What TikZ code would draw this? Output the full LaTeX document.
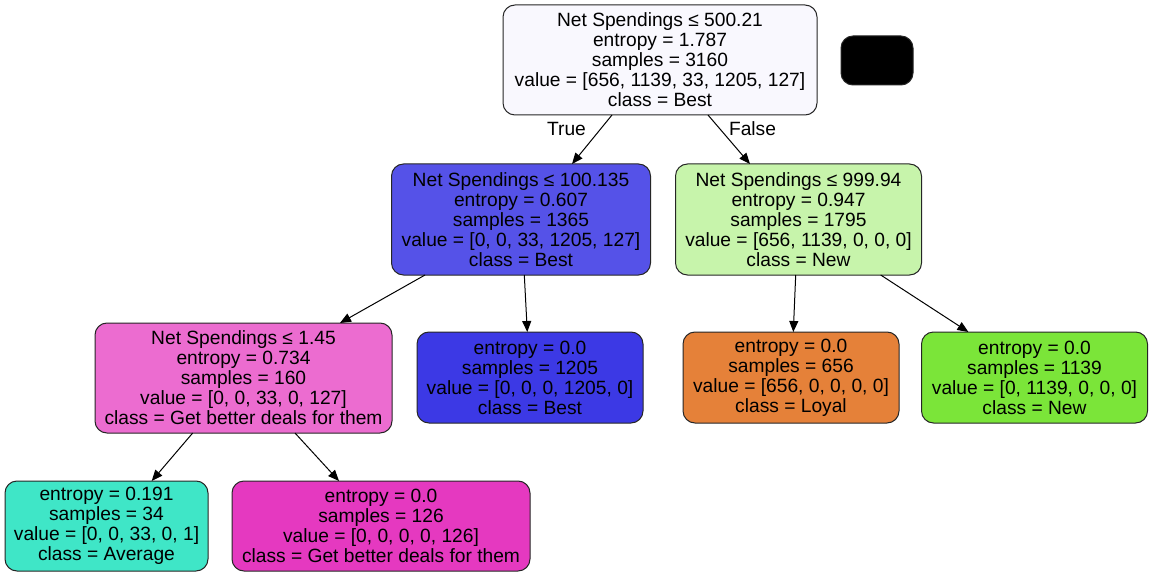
\documentclass[tikz,border=0pt]{standalone}
\usepackage{fontspec}
\setmainfont{Liberation Sans}
\usetikzlibrary{arrows.meta}
\definecolor{croot}{HTML}{F9F8FE}
\definecolor{cltwo}{HTML}{5552E8}
\definecolor{crtwo}{HTML}{C7F4AB}
\definecolor{cpink}{HTML}{EC6CD0}
\definecolor{cblue}{HTML}{3C39E5}
\definecolor{corange}{HTML}{E58139}
\definecolor{cgreen}{HTML}{7BE539}
\definecolor{cteal}{HTML}{3FE6C7}
\definecolor{cmag}{HTML}{E539C0}
\begin{document}
\begin{tikzpicture}[x=1pt,y=-1pt,
  tree/.style={draw=black!85, line width=1pt, rounded corners=12pt, align=center,
    inner sep=0pt, outer sep=0pt,
    font=\fontsize{19.2}{20}\selectfont},
  edgelbl/.style={font=\fontsize{19.2}{20}\selectfont, inner sep=0pt},
  conn/.style={line width=1pt, -{Triangle[length=11pt,width=9pt]}}]
\useasboundingbox (0,0) rectangle (1153,577);
\fill[white] (0,0) rectangle (1153,577);

\node[tree, fill=croot, minimum width=314pt, minimum height=110pt] (root) at (660,60)
  {Net Spendings ≤ 500.21\\entropy = 1.787\\samples = 3160\\value = [656, 1139, 33, 1205, 127]\\class = Best};
\node[tree, fill=black, minimum width=72pt, minimum height=49pt] (blk) at (877,60.5) {};

\node[tree, fill=cltwo, minimum width=259pt, minimum height=111pt] (l2) at (521,219.5)
  {Net Spendings ≤ 100.135\\entropy = 0.607\\samples = 1365\\value = [0, 0, 33, 1205, 127]\\class = Best};
\node[tree, fill=crtwo, minimum width=246pt, minimum height=111pt] (r2) at (798.5,219.5)
  {Net Spendings ≤ 999.94\\entropy = 0.947\\samples = 1795\\value = [656, 1139, 0, 0, 0]\\class = New};

\node[tree, fill=cpink, minimum width=297pt, minimum height=110pt] (pink) at (243.5,378)
  {Net Spendings ≤ 1.45\\entropy = 0.734\\samples = 160\\value = [0, 0, 33, 0, 127]\\class = Get better deals for them};
\node[tree, fill=cblue, minimum width=226pt, minimum height=91pt] (bleaf) at (530,377.5)
  {entropy = 0.0\\samples = 1205\\value = [0, 0, 0, 1205, 0]\\class = Best};
\node[tree, fill=corange, minimum width=216pt, minimum height=91pt] (oleaf) at (791,377.5)
  {entropy = 0.0\\samples = 656\\value = [656, 0, 0, 0, 0]\\class = Loyal};
\node[tree, fill=cgreen, minimum width=226pt, minimum height=91pt] (gleaf) at (1034.5,377.5)
  {entropy = 0.0\\samples = 1139\\value = [0, 1139, 0, 0, 0]\\class = New};

\node[tree, fill=cteal, minimum width=203pt, minimum height=90pt] (tleaf) at (106.5,526)
  {entropy = 0.191\\samples = 34\\value = [0, 0, 33, 0, 1]\\class = Average};
\node[tree, fill=cmag, minimum width=298pt, minimum height=90pt] (mleaf) at (381,526)
  {entropy = 0.0\\samples = 126\\value = [0, 0, 0, 0, 126]\\class = Get better deals for them};

\draw[conn] ([xshift=-48pt]root.south) -- ([xshift=51pt]l2.north);
\draw[conn] ([xshift=48pt]root.south) -- ([xshift=-48.5pt]r2.north);
\draw[conn] ([xshift=-96pt]l2.south) -- ([xshift=96.5pt]pink.north);
\draw[conn] ([xshift=3.3pt]l2.south) -- ([xshift=-2.7pt]bleaf.north);
\draw[conn] ([xshift=-2.8pt]r2.south) -- ([xshift=2.3pt]oleaf.north);
\draw[conn] ([xshift=82.2pt]r2.south) -- ([xshift=-66.1pt]gleaf.north);
\draw[conn] ([xshift=-50.8pt]pink.south) -- ([xshift=45.2pt]tleaf.north);
\draw[conn] ([xshift=51.5pt]pink.south) -- ([xshift=-42pt]mleaf.north);

\node[edgelbl] (ltrue) at (566.5,129) {True};
\node[edgelbl] (lfalse) at (752.5,129) {False};
\end{tikzpicture}
\end{document}
